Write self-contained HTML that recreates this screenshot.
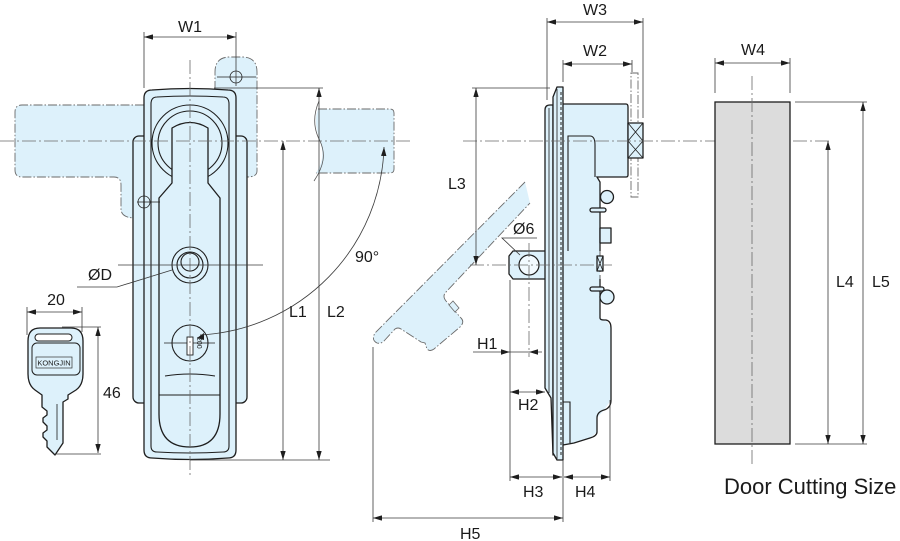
<!DOCTYPE html>
<html><head><meta charset="utf-8">
<style>
html,body{margin:0;padding:0;background:#fff;width:900px;height:541px;overflow:hidden}
svg{display:block}
text{font-family:"Liberation Sans",Arial,sans-serif;fill:#1a1a1a;font-size:16px}
.g{fill:#ddf1fb;stroke:none}
.gs{fill:none;stroke:#6a6a6a;stroke-width:.9;stroke-dasharray:9 2 1.5 2}
.c{fill:none;stroke:#6a6a6a;stroke-width:.8;stroke-dasharray:14 3 2 3}
.d{fill:none;stroke:#3a3a3a;stroke-width:.8}
.m{marker-start:url(#a);marker-end:url(#a)}
.o{fill:#ddf1fb;stroke:#1e1e1e;stroke-width:1.3;stroke-linejoin:round}
.l{fill:none;stroke:#1e1e1e;stroke-width:1.1}
.t{fill:none;stroke:#1e1e1e;stroke-width:.8}
</style></head><body>
<svg width="900" height="541" viewBox="0 0 900 541" xmlns="http://www.w3.org/2000/svg">
<defs>
<marker id="a" viewBox="0 0 10 6" refX="10" refY="3" markerWidth="9" markerHeight="5.4" markerUnits="userSpaceOnUse" orient="auto-start-reverse"><path d="M0,0L10,3L0,6z" fill="#1e1e1e"/></marker>
</defs>

<!-- ===== LEFT VIEW ===== -->
<path class="g" d="M150,105 L22,105 Q15,105 15,112 L15,170 Q15,177 22,177 L114,177 Q121,177 121,185 L121,209 Q121,217 130,218 L150,218 Z"/>
<path class="gs" d="M144,105 L22,105 Q15,105 15,112 L15,170 Q15,177 22,177 L114,177 Q121,177 121,185 L121,209 Q121,217 133,218"/>
<path class="g" d="M200,92 L215,92 L215,72 Q215,57 230,57 L242,57 Q257,57 257,72 L257,171 Q257,177 251,177 L200,177 Z"/>
<path class="gs" d="M215,90 L215,72 Q215,57 230,57 L242,57 Q257,57 257,72 L257,171 Q257,177 247,177"/>
<path class="g" d="M318,109 L390,109 Q394,109 394,113 L394,169 Q394,173 390,173 L316,173 C323,162 324,152 320,141 C316,128 314,120 318,109 Z"/>
<path class="gs" d="M318,109 L390,109 Q394,109 394,113 L394,169 Q394,173 390,173 L316,173"/>
<path d="M319,101 C313,115 313,128 320,141 C326,154 324,166 314,181" fill="none" stroke="#555" stroke-width=".8"/>

<rect class="o" x="133" y="136" width="114" height="267" rx="6"/>
<path class="o" d="M144,98 Q144,90 152,90 Q190,87 228,90 Q236,90 236,98 L236,450 Q236,458 228,458 Q190,461 152,458 Q144,458 144,450 Z"/>
<path class="l" d="M151,104 Q151,97 157,97 Q190,95 223,97 Q229,97 229,104 L229,446 Q229,452 223,452 Q190,454 157,452 Q151,452 151,446 Z"/>
<circle class="l" cx="190" cy="143" r="38"/>
<circle class="l" cx="190" cy="143" r="32"/>
<path class="o" d="M159,198 L172,183 L172,128 Q190,117 208,128 L208,183 L220,198 L220,414 Q220,447 190,447 Q159,447 159,414 Z"/>
<path class="l" d="M159,395 L220,395"/>
<path class="l" d="M165,376 Q190,372 215,376"/>

<circle class="l" cx="190" cy="265" r="18"/>
<circle class="l" cx="190" cy="265" r="13"/>
<circle class="l" cx="190" cy="262" r="9"/>
<circle class="l" cx="190" cy="343" r="18"/>
<line class="t" x1="164" y1="343" x2="215" y2="343"/>
<rect x="187" y="337" width="6" height="18" fill="#fff" stroke="#1e1e1e" stroke-width=".9"/>
<text transform="translate(197,337) rotate(90)" style="font-size:7px">200</text>
<path d="M197,338 L204,333 L204,340 Z" fill="#1e1e1e"/>

<circle class="t" cx="144" cy="202" r="6"/>
<line class="t" x1="137" y1="202" x2="160" y2="202"/>
<circle class="t" cx="236" cy="77" r="6"/>
<line class="t" x1="217" y1="77" x2="256" y2="77"/>

<line class="c" x1="190" y1="60" x2="190" y2="477"/>
<line class="c" x1="0" y1="141" x2="410" y2="141"/>

<line class="d m" x1="144" y1="37" x2="236" y2="37"/>
<line class="d" x1="144" y1="32" x2="144" y2="88"/>
<line class="d" x1="236" y1="32" x2="236" y2="86"/>
<text x="190" y="32" text-anchor="middle">W1</text>
<line class="d" x1="214" y1="88" x2="323" y2="88"/>
<line class="d" x1="190" y1="460" x2="330" y2="460"/>
<line class="d m" x1="283" y1="141" x2="283" y2="460"/>
<line class="d m" x1="319" y1="88" x2="319" y2="460"/>
<text x="289" y="317">L1</text>
<text x="327" y="317">L2</text>
<line class="d" x1="118" y1="265" x2="263" y2="265"/>
<polyline class="d" points="77,287 117,287 172,270"/>
<text x="88" y="280">ØD</text>
<path class="d" d="M200,335 A194,194 0 0 0 384,147" style="marker-end:url(#a)"/>
<text x="355" y="262">90°</text>

<!-- key -->
<path class="o" d="M40,328 L71,328 Q83,328 83,341 L83,374 Q83,385 76,390 L68,395 L68,399 L63,402 L63,443 L55,455 L47,447 L47,441 L43,437 L43,433 L47,430 L47,426 L43,422 L43,418 L47,415 L47,411 L42,407 L42,395 L35,390 Q28,385 28,374 L28,341 Q28,328 40,328 Z"/>
<rect x="35" y="334" width="37" height="7" rx="3.5" fill="#fff" stroke="#1e1e1e" stroke-width="1"/>
<rect x="32" y="343" width="48" height="32" rx="5" fill="none" stroke="#1e1e1e" stroke-width="1"/>
<rect x="36" y="357" width="36" height="11" fill="none" stroke="#333" stroke-width=".7"/>
<text x="54" y="365.5" text-anchor="middle" style="font-size:7.5px">KONGJIN</text>
<line class="t" x1="57" y1="404" x2="57" y2="440"/>
<line class="d m" x1="27" y1="312" x2="82" y2="312"/>
<line class="d" x1="27" y1="307" x2="27" y2="335"/>
<line class="d" x1="82" y1="307" x2="82" y2="332"/>
<text x="56" y="305" text-anchor="middle">20</text>
<line class="d m" x1="98" y1="327" x2="98" y2="453"/>
<line class="d" x1="62" y1="327" x2="101" y2="327"/>
<line class="d" x1="55" y1="454" x2="101" y2="454"/>
<text x="103" y="398">46</text>

<!-- ===== MIDDLE VIEW ===== -->
<path class="g" d="M525,182 L375,333 Q371,340 377,343 Q381,344 384,341 L395,329 Q398,327 401,329 L421,342 L425,343 L427,349 Q430,352 434,349 L460,327 Q465,322 461,318 L446,301 Q442,296 446,292 L530,203 Z"/>
<path class="gs" d="M525,182 L375,333 Q371,340 377,343 Q381,344 384,341 L395,329 Q398,327 401,329 L421,342 L425,343 L427,349 Q430,352 434,349 L460,327 Q465,322 461,318 L446,301 Q442,296 446,292 L530,203"/>
<path d="M449,305 L453,301 L459,308 L455,312 Z" fill="#ddf1fb" stroke="#6a6a6a" stroke-width=".8"/>

<rect x="631" y="73" width="7" height="124" fill="none" stroke="#6a6a6a" stroke-width=".9" stroke-dasharray="9 2 1.5 2"/>

<path class="o" d="M553,251 L513,251 L509,256 L509,274 L513,279 L553,279"/>
<path d="M553,251 L597,251 L597,279 L553,279" fill="#ddf1fb" stroke="#1e1e1e" stroke-width="1" stroke-dasharray="5 3"/>
<circle cx="529" cy="265" r="10" fill="#f2faff" stroke="#1e1e1e" stroke-width="1.2"/>

<path class="g" d="M563,104 L626,104 L628,107 L628,177 L597,177 L600,182 L600,318 L606,320 L611,328 L611,400 L604,410 L597,418 L597,432 L590,438 L574,443 L563,445 Z"/>
<path d="M563,104 L626,104 Q628,104 628,107 L628,175 Q628,177 626,177 L597,177 L600,182 L600,251" fill="none" stroke="#1e1e1e" stroke-width="1.3"/>
<path d="M600,279 L600,318 Q600,320 604,320 L606,320 Q611,321 611,328 L611,400 Q611,408 604,410 Q597,412 597,418 L597,432 Q597,436 590,438 L574,443 L563,445" fill="none" stroke="#1e1e1e" stroke-width="1.3"/>
<path class="d" d="M600,251 L600,279" stroke-dasharray="5 3"/>
<path class="l" d="M568,251 L568,136 L590,136 Q595,136 595,145 L595,177"/>
<path class="l" d="M563,402 L570,402 L570,443"/>
<circle class="o" cx="607" cy="197" r="6.5"/>
<rect class="o" x="590" y="208" width="16" height="4" rx="2"/>
<rect class="o" x="600" y="228" width="11" height="15"/>
<rect class="o" x="597" y="256" width="6" height="15"/>
<path class="t" d="M597,256 L603,271 M603,256 L597,271"/>
<rect class="o" x="590" y="287" width="14" height="4" rx="2"/>
<circle class="o" cx="607" cy="297" r="7"/>
<rect class="o" x="628" y="123" width="15" height="35"/>
<path class="t" d="M628,123 L643,141 M643,123 L628,141 M628,141 L643,158 M643,141 L628,158"/>
<path class="o" d="M545,110 Q545,105 550,105 L553,105 L553,455 L551,398 L545,388 Z"/>
<line class="t" x1="549" y1="108" x2="549" y2="393"/>
<path class="o" d="M553,97 L557,87 L563,87 L563,460 L557,460 L553,453 Z"/>
<line class="t" x1="557" y1="89" x2="557" y2="459"/>
<line x1="561" y1="92" x2="561" y2="455" stroke="#1e1e1e" stroke-width="1" stroke-dasharray="3 2"/>

<line class="c" x1="463" y1="141" x2="831" y2="141"/>
<line class="c" x1="470" y1="265" x2="612" y2="265"/>
<line class="c" x1="529" y1="243" x2="529" y2="357"/>

<line class="d m" x1="547" y1="22" x2="643" y2="22"/>
<line class="d" x1="547" y1="18" x2="547" y2="100"/>
<line class="d" x1="643" y1="18" x2="643" y2="118"/>
<text x="595" y="15" text-anchor="middle">W3</text>
<line class="d m" x1="563" y1="64" x2="632" y2="64"/>
<line class="d" x1="563" y1="60" x2="563" y2="82"/>
<line class="d" x1="632" y1="60" x2="632" y2="72"/>
<text x="595" y="56" text-anchor="middle">W2</text>
<line class="d" x1="472" y1="88" x2="550" y2="88"/>
<line class="d m" x1="476" y1="88" x2="476" y2="265"/>
<text x="448" y="189">L3</text>
<polyline class="d" points="537,238 502,238 520,255"/>
<text x="513" y="234">Ø6</text>
<line class="d" x1="473" y1="352" x2="542" y2="352"/>
<path d="M510,352 L501,349.3 L501,354.7 Z M529,352 L538,349.3 L538,354.7 Z" fill="#1e1e1e"/>
<text x="477" y="349">H1</text>
<line class="d" x1="510" y1="280" x2="510" y2="481"/>
<line class="d m" x1="510" y1="392" x2="545" y2="392"/>
<text x="518" y="410">H2</text>
<line class="d m" x1="510" y1="477" x2="562" y2="477"/>
<line class="d m" x1="564" y1="477" x2="610" y2="477"/>
<line class="d" x1="563" y1="460" x2="563" y2="522"/>
<line class="d" x1="610" y1="400" x2="610" y2="481"/>
<text x="523" y="497">H3</text>
<text x="575" y="497">H4</text>
<line class="d" x1="373" y1="347" x2="373" y2="522"/>
<line class="d m" x1="373" y1="518" x2="563" y2="518"/>
<text x="460" y="539">H5</text>

<!-- ===== RIGHT VIEW ===== -->
<rect x="715" y="102" width="75" height="342" fill="#dcdcdc" stroke="#1e1e1e" stroke-width="1.3"/>
<line class="c" x1="752" y1="76" x2="752" y2="464"/>
<line class="d m" x1="715" y1="63" x2="790" y2="63"/>
<line class="d" x1="715" y1="58" x2="715" y2="93"/>
<line class="d" x1="790" y1="58" x2="790" y2="93"/>
<text x="753" y="55" text-anchor="middle">W4</text>
<line class="d" x1="795" y1="102" x2="867" y2="102"/>
<line class="d" x1="795" y1="444" x2="867" y2="444"/>
<line class="d m" x1="863" y1="102" x2="863" y2="444"/>
<line class="d m" x1="828" y1="141" x2="828" y2="444"/>
<text x="836" y="287">L4</text>
<text x="872" y="287">L5</text>
<text x="724" y="494" style="font-size:22px">Door Cutting Size</text>
</svg>
</body></html>
